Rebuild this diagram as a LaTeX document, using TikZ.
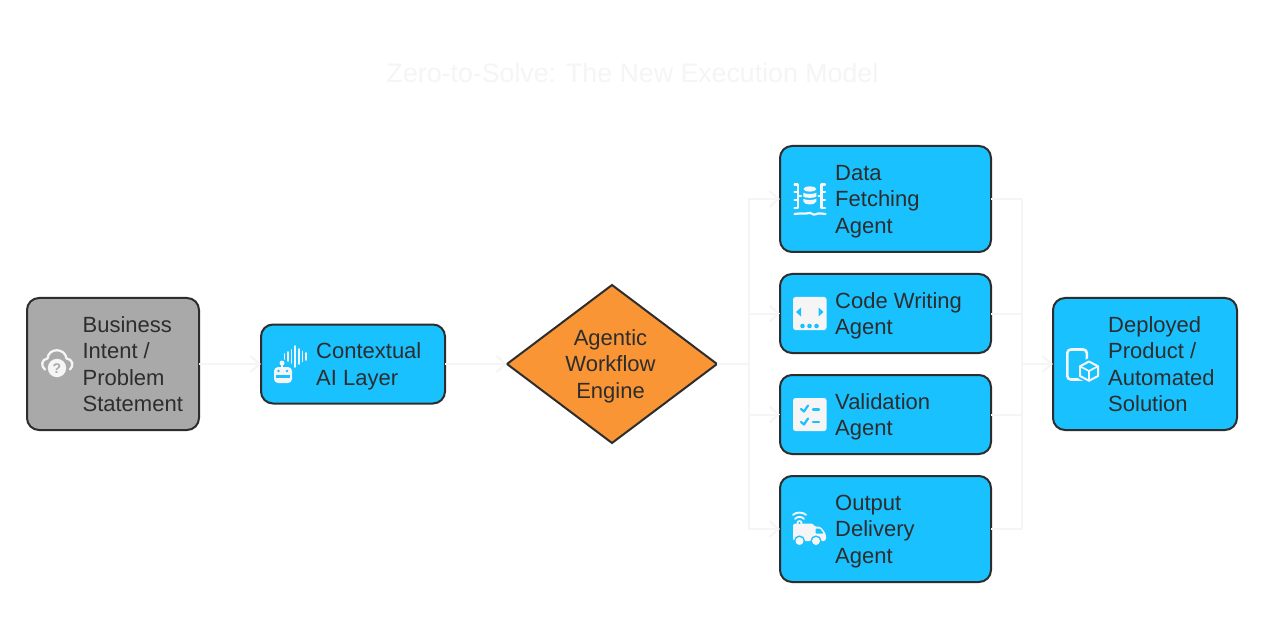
\documentclass[tikz,border=0pt]{standalone}
\usepackage{fontspec}
\setmainfont{Liberation Sans}
\usetikzlibrary{shapes.geometric,arrows.meta}
\definecolor{inkc}{HTML}{2D2D2D}
\definecolor{paleline}{HTML}{F5F5F5}
\definecolor{skyc}{HTML}{19C1FF}
\definecolor{grayc}{HTML}{A9A9A9}
\definecolor{orangec}{HTML}{F99535}
\newcommand{\boxtext}[4]{\parbox[c]{#1pt}{\vspace*{#4pt}\setlength\leftskip{#2pt}\setlength\rightskip{0pt plus 1fil}\setlength\parfillskip{0pt plus 1fil}\setlength\parindent{0pt}\fontsize{22}{26.4}\selectfont\color{inkc}#3\par}}
\tikzset{
  basebox/.style={draw=inkc,line width=2pt,rounded corners=12pt,inner sep=0pt,outer sep=0pt},
  skybox/.style={basebox,fill=skyc},
  graybox/.style={basebox,fill=grayc},
  conn/.style={draw=paleline,line width=2pt},
  arr/.style={conn,-{Straight Barb[length=9pt,width=16pt,line width=2pt]}},
  icon/.style={draw=paleline,line width=2pt,fill=none,line cap=round,line join=round},
  cutline/.style={draw=skyc,line width=2.2pt,line cap=round,line join=round}
}
\begin{document}
\begin{tikzpicture}[x=1pt,y=-1pt]
\useasboundingbox (0,0) rectangle (1266,636);
\fill[white] (0,0) rectangle (1266,636);

\node[text=paleline,font=\fontsize{26.75}{32}\selectfont,inner sep=0pt] (title) at (632.5,73) {Zero-to-Solve: The New Execution Model};

\node[graybox,minimum width=172pt,minimum height=132pt] (intent) at (113,364) {\boxtext{172}{55.6}{Business\\Intent /\\Problem\\Statement}{0}};
\node[skybox,minimum width=184pt,minimum height=79pt] (context) at (353,364) {\boxtext{184}{55.2}{Contextual\\AI Layer}{5}};
\node[diamond,draw=inkc,fill=orangec,line width=2pt,shape aspect=1.329,inner sep=0pt,outer sep=0pt,minimum width=210pt,minimum height=158pt,font=\fontsize{22}{26.4}\selectfont,text=inkc] (engine) at (612,364) {\hspace{-3pt}\parbox[c]{110pt}{\vspace*{4pt}\centering Agentic\\Workflow\\Engine\par}};
\node[skybox,minimum width=211pt,minimum height=106pt] (data) at (885.5,199) {\boxtext{211}{55.2}{Data\\Fetching\\Agent}{5}};
\node[skybox,minimum width=211pt,minimum height=79pt] (code) at (885.5,313.5) {\boxtext{211}{55.2}{Code Writing\\Agent}{5}};
\node[skybox,minimum width=211pt,minimum height=79pt] (valid) at (885.5,414.5) {\boxtext{211}{55.2}{Validation\\Agent}{5}};
\node[skybox,minimum width=211pt,minimum height=106pt] (output) at (885.5,529) {\boxtext{211}{55.2}{Output\\Delivery\\Agent}{5}};
\node[skybox,minimum width=184pt,minimum height=132pt] (deployed) at (1145,364) {\boxtext{184}{55.2}{Deployed\\Product /\\Automated\\Solution}{0}};

\coordinate (split) at (749,364);
\coordinate (merge) at (1022,364);
\draw[arr] (intent.east) -- (context.west);
\draw[arr] (context.east) -- (engine.west);
\draw[conn] (engine.east) -- (split);
\draw[arr] (split) |- (data.west);
\draw[arr] (split) |- (code.west);
\draw[arr] (split) |- (valid.west);
\draw[arr] (split) |- (output.west);
\draw[conn] (data.east) -| (merge);
\draw[conn] (code.east) -| (merge);
\draw[conn] (valid.east) -| (merge);
\draw[conn] (output.east) -| (merge);
\draw[arr] (merge) -- (deployed.west);

% cloud icon
\draw[icon,line width=2.3pt] (45,369.5) .. controls (40.5,366) and (41.5,359) .. (47.5,358.5) .. controls (48.5,347.5) and (65,347.5) .. (66.5,358.5) .. controls (73,359) and (74,366) .. (70,369.5);
\fill[paleline] (57,368) circle (9.2pt);
\node[font=\fontsize{14}{14}\bfseries\selectfont,text=grayc,inner sep=0pt] (qmark) at (57,368.5) {?};

% robot and voice icon
\fill[paleline] (282,363) circle (2.5pt);
\draw[icon,line width=1.3pt] (282,363) -- (282,368);
\fill[paleline,rounded corners=4pt] (274,383) -- (274,367) -- (292,367) -- (292,383) -- cycle;
\fill[skyc] (276,375) rectangle (290,377.5);
\fill[skyc] (278.5,371) circle (1.3pt) (287,371) circle (1.3pt);
\foreach \bx/\bh in {284.5/2.5,288/4.5,291.5/6.5,295.3/10.5,299/7.5,302.5/5,306/3.5}
  \draw[icon,line width=1.7pt] (\bx,356.5-\bh) -- (\bx,356.5+\bh);

% data fetching icon
\draw[icon,line width=2.3pt] (794.5,184.5) -- (798,184.5) -- (798,208) -- (794.5,208) (794.5,192) -- (798,192) (794.5,200) -- (798,200) (798,196) -- (801,196);
\draw[icon,line width=2.3pt] (825,184.5) -- (821.5,184.5) -- (821.5,208) -- (825,208) (825,192) -- (821.5,192) (825,200) -- (821.5,200) (821.5,196) -- (818.5,196);
\fill[paleline] (809.8,189) ellipse (6.5pt and 2.6pt);
\fill[paleline] (803.3,192.7) .. controls (805,194.4) and (814.6,194.4) .. (816.3,192.7) -- (816.3,196.6) .. controls (814.6,198.3) and (805,198.3) .. (803.3,196.6) -- cycle;
\fill[paleline] (803.3,198.7) .. controls (805,200.4) and (814.6,200.4) .. (816.3,198.7) -- (816.3,201.5) .. controls (815,205.5) and (804.6,205.5) .. (803.3,201.5) -- cycle;
\draw[icon,line width=2.2pt] (794.5,214) .. controls (798,214.5) and (800,212.5) .. (803,213.5) .. controls (806,215) and (808,212) .. (810,212.8) .. controls (812,215) and (815,215) .. (818,213.5) .. controls (820,212.8) and (822,214) .. (825.5,214);

% code writing icon
\fill[paleline,rounded corners=2.5pt] (793,297) rectangle (826.5,330);
\fill[skyc] (801,307.5) -- (796,312) -- (801,316.5) -- cycle;
\fill[skyc] (818.5,307.5) -- (823.5,312) -- (818.5,316.5) -- cycle;
\fill[skyc] (802.5,326) circle (2.3pt) (809.5,326) circle (2.3pt) (816.5,326) circle (2.3pt);

% validation icon
\fill[paleline,rounded corners=2.5pt] (793,398) rectangle (826.5,431);
\draw[cutline] (801,409) -- (804,411.5) -- (808,405.5);
\draw[cutline] (801,422) -- (804,424.5) -- (808,418.5);
\draw[cutline] (813,409.5) -- (819,409.5);
\draw[cutline] (813,422) -- (819,422);

% delivery icon
\fill[paleline,rounded corners=2.5pt] (793,523.5) -- (793,541) -- (826,541) -- (826,534) -- (820.5,526.5) -- (813.5,526.5) -- (813.5,523.5) -- cycle;
\fill[skyc,rounded corners=0.8pt] (815.5,528.5) -- (820,528.5) -- (823.5,533.5) -- (815.5,533.5) -- cycle;
\fill[skyc] (799.5,541) circle (5.6pt) (816,541) circle (5.6pt);
\fill[paleline] (799.5,541) circle (4pt) (816,541) circle (4pt);
\fill[paleline] (799.5,523) circle (3pt);
\fill[skyc] (799.5,523) circle (1.2pt);
\draw[icon,line width=1.9pt] (795,518.8) .. controls (797.5,516.3) and (801.5,516.3) .. (804,518.8);
\draw[icon,line width=1.9pt] (793,514.8) .. controls (796.5,511.8) and (802.5,511.8) .. (806,514.8);

% deployed icon
\draw[icon,line width=2.6pt,rounded corners=3.5pt] (1067.3,349.5) rectangle (1086.8,379.5);
\fill[skyc] (1089,371) +(0,-13) -- +(12,-6.5) -- +(12,6.5) -- +(0,13) -- +(-12,6.5) -- +(-12,-6.5) -- cycle;
\draw[icon,line width=2pt] (1089,361.5) -- (1098,366.3) -- (1098,376) -- (1089,380.8) -- (1080,376) -- (1080,366.3) -- cycle;
\draw[icon,line width=1.7pt] (1080,366.3) -- (1089,371) -- (1098,366.3) (1089,371) -- (1089,380.8);
\end{tikzpicture}
\end{document}
